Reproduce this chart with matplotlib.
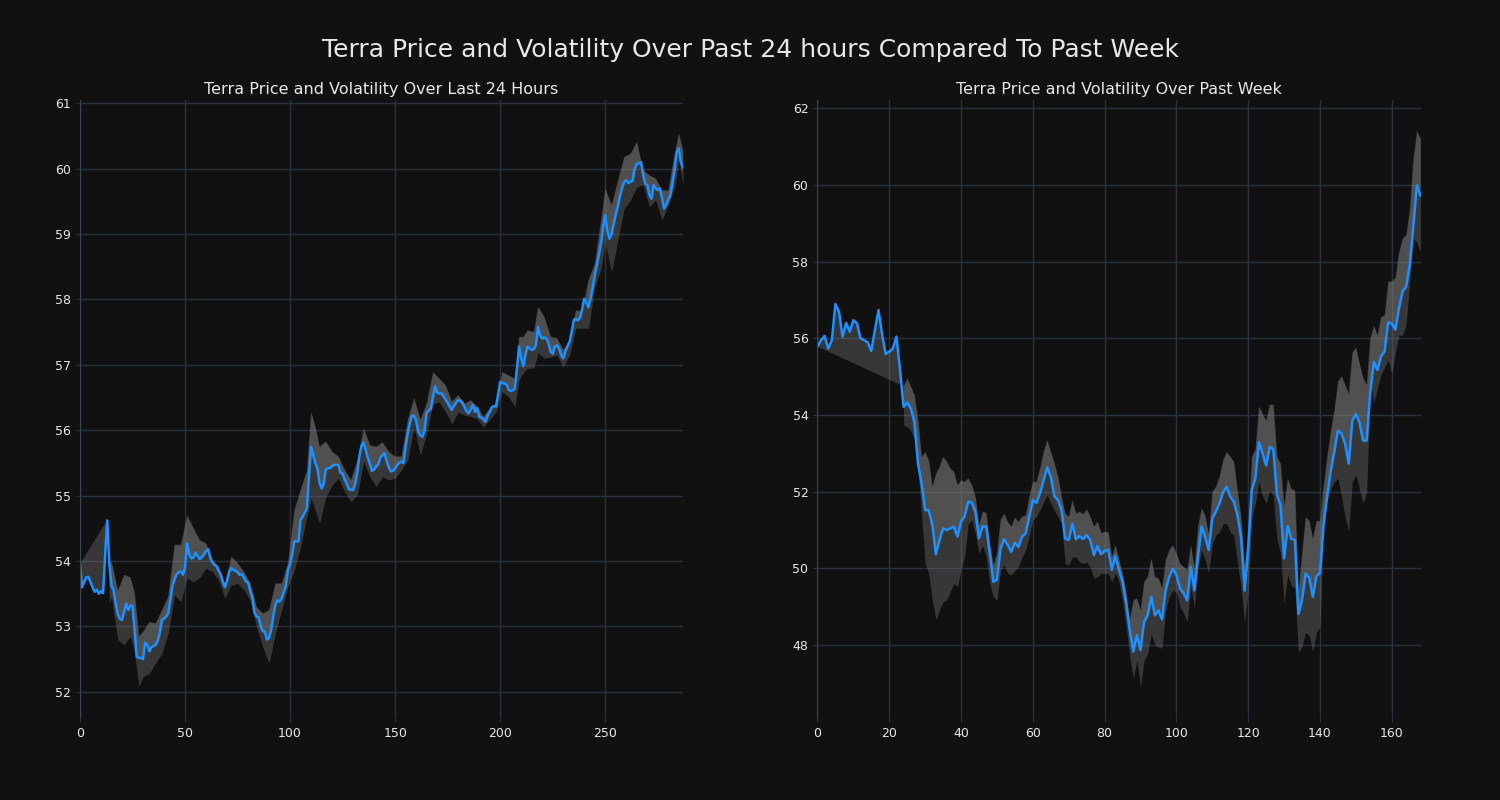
import matplotlib.pyplot as plt
from matplotlib.ticker import MultipleLocator
import numpy as np

BG = '#111111'
GRID = '#29313b'
TXT = '#e8e8e8'
LINE = '#1e90ff'

# price over last 24 hours (5 minute steps)
price_24h = [53.95, 53.6, 53.68, 53.75, 53.76, 53.68, 53.6, 53.53, 53.56, 53.5, 53.54, 53.51,
             54.1, 54.62, 53.95, 53.62, 53.55, 53.35, 53.18, 53.12, 53.1, 53.22, 53.35, 53.25,
             53.32, 53.32, 52.95, 52.54, 52.52, 52.52, 52.5, 52.75, 52.72, 52.62, 52.68, 52.7,
             52.72, 52.78, 52.9, 53.1, 53.12, 53.15, 53.2, 53.4, 53.62, 53.72, 53.8, 53.83,
             53.84, 53.79, 53.9, 54.27, 54.1, 54.04, 54.05, 54.13, 54.08, 54.03, 54.06, 54.1,
             54.15, 54.18, 54.05, 53.98, 53.94, 53.92, 53.85, 53.79, 53.68, 53.6, 53.7, 53.83,
             53.89, 53.87, 53.85, 53.83, 53.79, 53.8, 53.75, 53.69, 53.67, 53.55, 53.45, 53.22,
             53.15, 53.14, 53.0, 52.93, 52.92, 52.8, 52.82, 52.95, 53.15, 53.33, 53.4, 53.38,
             53.43, 53.52, 53.62, 53.86, 53.95, 54.1, 54.3, 54.3, 54.3, 54.63, 54.68, 54.74,
             54.8, 55.3, 55.75, 55.62, 55.5, 55.42, 55.2, 55.11, 55.18, 55.4, 55.42, 55.42,
             55.45, 55.47, 55.47, 55.47, 55.35, 55.34, 55.25, 55.18, 55.1, 55.09, 55.09, 55.18,
             55.35, 55.6, 55.76, 55.81, 55.7, 55.58, 55.48, 55.38, 55.4, 55.45, 55.48, 55.58,
             55.62, 55.65, 55.52, 55.43, 55.37, 55.38, 55.42, 55.47, 55.5, 55.52, 55.5, 55.75,
             55.95, 56.11, 56.22, 56.22, 56.15, 55.98, 55.92, 55.9, 56.0, 56.27, 56.3, 56.33,
             56.5, 56.67, 56.58, 56.56, 56.57, 56.52, 56.47, 56.42, 56.36, 56.31, 56.37, 56.42,
             56.46, 56.45, 56.42, 56.36, 56.29, 56.26, 56.32, 56.39, 56.28, 56.34, 56.21, 56.19,
             56.17, 56.13, 56.22, 56.28, 56.35, 56.37, 56.36, 56.55, 56.74, 56.72, 56.72, 56.7,
             56.62, 56.6, 56.61, 56.64, 56.95, 57.28, 57.1, 56.98, 57.15, 57.28, 57.25, 57.23,
             57.24, 57.3, 57.58, 57.45, 57.4, 57.42, 57.4, 57.33, 57.2, 57.17, 57.28, 57.3,
             57.25, 57.15, 57.1, 57.2, 57.28, 57.35, 57.5, 57.68, 57.7, 57.68, 57.72, 57.85,
             58.01, 57.95, 57.88, 58.02, 58.17, 58.37, 58.52, 58.68, 58.86, 59.1, 59.29, 59.05,
             58.93, 59.0, 59.15, 59.3, 59.42, 59.58, 59.7, 59.8, 59.82, 59.78, 59.8, 59.81,
             60.0, 60.07, 60.08, 60.1, 59.92, 59.77, 59.75, 59.6, 59.54, 59.75, 59.7, 59.67,
             59.7, 59.55, 59.39, 59.45, 59.52, 59.6, 59.78, 59.98, 60.25, 60.31, 60.1, 60.02]

# volatility band, last 24 hours
band_x_24h = [13, 14, 15, 18, 21, 24, 26, 28, 30, 33, 36, 39, 42, 45, 48, 51, 54, 57, 60, 63,
              66, 69, 72, 75, 78, 81, 84, 87, 90, 93, 96, 99, 102, 105, 108, 110, 112, 114, 117,
              120, 123, 126, 129, 132, 135, 138, 141, 144, 147, 150, 153, 156, 159, 162, 165,
              168, 171, 174, 177, 180, 183, 186, 189, 192, 195, 198, 201, 204, 207, 209, 211,
              213, 216, 218, 221, 224, 227, 230, 233, 236, 239, 242, 245, 248, 250, 253, 256,
              259, 262, 265, 268, 271, 274, 277, 280, 283, 285, 287]
upper_24h = [54.63, 53.95, 53.99, 53.55, 53.79, 53.75, 53.5, 52.85, 52.92, 53.07, 53.05, 53.25,
             53.46, 54.25, 54.25, 54.7, 54.5, 54.32, 54.27, 54.02, 53.91, 53.65, 54.07, 53.97,
             53.84, 53.66, 53.3, 53.2, 53.25, 53.66, 53.66, 53.97, 54.78, 55.09, 55.39, 56.28,
             56.05, 55.75, 55.83, 55.67, 55.6, 55.39, 55.24, 55.55, 56.03, 55.77, 55.75, 55.82,
             55.67, 55.6, 55.6, 56.16, 56.49, 56.16, 56.41, 56.89, 56.79, 56.69, 56.44, 56.54,
             56.41, 56.46, 56.36, 56.21, 56.33, 56.41, 56.89, 56.84, 56.79, 57.43, 57.43, 57.53,
             57.5, 57.89, 57.73, 57.43, 57.41, 57.23, 57.38, 57.84, 57.81, 58.3, 58.55, 59.21,
             59.7, 59.44, 59.82, 60.18, 60.23, 60.41, 59.98, 59.9, 59.85, 59.67, 59.67, 60.23,
             60.54, 60.28]
lower_24h = [54.55, 53.35, 53.45, 52.8, 52.72, 52.85, 52.6, 52.08, 52.23, 52.28, 52.44, 52.59,
             52.9, 53.48, 53.38, 53.74, 53.68, 53.75, 53.89, 53.84, 53.71, 53.43, 53.63, 53.66,
             53.56, 53.4, 53.0, 52.69, 52.44, 52.9, 53.25, 53.61, 53.86, 54.22, 54.68, 54.96,
             54.78, 54.58, 54.98, 55.16, 55.27, 55.06, 54.91, 55.01, 55.52, 55.29, 55.14, 55.29,
             55.24, 55.27, 55.39, 55.54, 56.05, 55.62, 55.95, 56.41, 56.43, 56.28, 56.1, 56.28,
             56.23, 56.21, 56.18, 56.05, 56.16, 56.28, 56.59, 56.51, 56.36, 56.77, 56.88, 56.95,
             56.95, 57.18, 57.1, 57.12, 57.15, 56.97, 57.15, 57.56, 57.56, 57.56, 58.19, 58.47,
             58.86, 58.42, 58.91, 59.39, 59.52, 59.72, 59.75, 59.42, 59.52, 59.21, 59.44, 59.72,
             60.13, 59.75]

# price over past week (hourly)
price_week = [55.78, 55.95, 56.06, 55.73, 55.95, 56.89, 56.69, 56.04, 56.4, 56.17, 56.47, 56.39,
              56.0, 55.95, 55.89, 55.67, 56.21, 56.73, 56.1, 55.59, 55.65, 55.73, 56.04, 55.17,
              54.21, 54.32, 54.17, 53.82, 52.74, 52.22, 51.52, 51.52, 51.13, 50.37, 50.74, 51.04,
              51.0, 51.04, 51.09, 50.83, 51.22, 51.36, 51.74, 51.71, 51.48, 50.78, 51.09, 51.09,
              50.39, 49.65, 49.7, 50.52, 50.76, 50.61, 50.43, 50.67, 50.56, 50.83, 50.91, 51.35,
              51.78, 51.71, 51.96, 52.3, 52.63, 52.39, 51.88, 51.78, 51.52, 50.78, 50.74, 51.16,
              50.76, 50.84, 50.76, 50.87, 50.74, 50.35, 50.58, 50.37, 50.45, 50.49, 49.96, 50.32,
              49.96, 49.65, 49.09, 48.39, 47.83, 48.26, 47.87, 48.61, 48.78, 49.26, 48.78, 48.9,
              48.67, 49.43, 49.78, 49.99, 49.83, 49.48, 49.35, 49.17, 50.04, 49.43, 50.3, 51.09,
              50.82, 50.48, 51.3, 51.48, 51.69, 51.99, 52.13, 51.87, 51.74, 51.39, 50.82, 49.42,
              50.5, 52.05, 52.35, 53.29, 53.0, 52.68, 53.17, 53.1, 51.93, 51.65, 50.26, 51.1,
              50.77, 50.74, 48.81, 49.18, 49.86, 49.76, 49.26, 49.79, 49.88, 51.14, 51.89, 52.54,
              53.05, 53.59, 53.52, 53.24, 52.73, 53.85, 54.03, 53.8, 53.33, 53.33, 54.59, 55.38,
              55.17, 55.52, 55.66, 56.41, 56.38, 56.22, 56.78, 57.22, 57.34, 57.9, 58.93, 59.98,
              59.72]

# volatility band, past week (starts at hour 24)
upper_week = [54.75, 54.95, 54.74, 54.52, 53.87, 52.91, 53.04, 52.82, 52.13, 52.47, 52.65, 52.91,
              52.78, 52.61, 52.52, 52.17, 52.3, 52.26, 52.35, 52.17, 51.87, 51.13, 51.48, 51.45,
              50.65, 50.09, 50.39, 51.26, 51.43, 51.21, 51.09, 51.33, 51.21, 51.36, 51.38, 51.87,
              52.26, 52.26, 52.61, 53.04, 53.34, 53.04, 52.74, 52.39, 51.87, 51.43, 51.35, 51.78,
              51.43, 51.48, 51.42, 51.54, 51.35, 51.09, 51.22, 50.93, 50.95, 50.95, 50.3, 50.61,
              50.22, 49.87, 49.35, 48.65, 49.17, 49.22, 48.91, 49.65, 49.78, 50.26, 49.78, 49.74,
              49.48, 50.22, 50.48, 50.61, 50.39, 50.13, 50.04, 49.96, 50.61, 50.0, 51.09, 51.56,
              51.39, 50.87, 52.0, 52.13, 52.39, 52.82, 53.04, 52.91, 52.78, 52.04, 51.35, 50.04,
              51.0, 52.91, 53.1, 54.22, 54.03, 53.85, 54.27, 54.27, 52.91, 52.73, 51.61, 52.35,
              52.07, 52.03, 49.37, 50.4, 51.33, 51.24, 50.77, 51.24, 51.24, 52.17, 52.91, 53.57,
              54.13, 54.87, 55.01, 54.78, 54.55, 55.62, 55.76, 55.34, 54.97, 54.78, 55.99, 56.32,
              56.08, 56.55, 56.6, 57.48, 57.48, 57.58, 58.23, 58.6, 58.69, 59.35, 60.65, 61.4,
              61.21]
lower_week = [53.74, 53.69, 53.6, 53.35, 52.6, 51.43, 50.13, 49.87, 49.17, 48.65, 48.91, 49.13,
              49.17, 49.39, 49.61, 49.52, 49.96, 50.3, 51.17, 51.26, 50.9, 50.39, 50.6, 50.3,
              49.61, 49.26, 49.17, 49.96, 50.09, 49.87, 49.83, 49.95, 50.04, 50.3, 50.48, 50.83,
              51.26, 51.35, 51.52, 51.74, 51.91, 51.69, 51.52, 51.35, 51.17, 50.13, 50.09, 50.3,
              50.3, 50.17, 50.13, 50.17, 50.04, 49.74, 49.78, 49.87, 49.87, 49.87, 49.65, 49.87,
              49.65, 49.17, 48.48, 47.7, 47.13, 47.61, 46.9, 47.61, 47.78, 48.3, 48.0, 47.95,
              47.92, 48.91, 49.26, 49.43, 49.38, 49.0, 48.83, 48.61, 49.52, 48.96, 50.04, 50.47,
              50.22, 49.87, 50.65, 50.87, 50.95, 51.17, 51.17, 50.95, 50.87, 50.13, 49.52, 48.6,
              49.4, 51.33, 51.7, 52.26, 51.89, 51.7, 52.03, 51.89, 50.77, 50.4, 49.09, 49.84,
              49.56, 49.46, 47.79, 47.98, 48.34, 48.25, 47.83, 48.34, 48.48, 51.24, 51.8, 52.07,
              52.26, 52.35, 51.89, 51.33, 50.96, 52.26, 52.45, 52.07, 51.7, 51.98, 54.87, 54.31,
              54.69, 55.06, 55.24, 55.43, 55.06, 55.62, 56.08, 56.08, 56.36, 57.48, 58.6, 58.51,
              58.23]
BAND_START_WEEK = 24


def draw(ax, price, bx, up, lo, title):
    x = np.arange(len(price))
    price = np.array(price)
    bx = np.array(bx)
    up = np.array(up)
    lo = np.array(lo)
    ax.set_facecolor(BG)
    ax.fill_between(bx, lo, up, color='grey', alpha=0.35, linewidth=0)
    # second layer between price and upper band (closing back to the first point)
    ax.fill(np.concatenate([x, bx[::-1]]), np.concatenate([price, up[::-1]]),
            color='grey', alpha=0.35, linewidth=0)
    ax.plot(x, price, color=LINE, linewidth=1.8)
    ax.set_xlim(0, len(price) - 1)
    ax.set_title(title, color=TXT, fontsize=11.5, pad=4)
    ax.grid(True, color=GRID, linewidth=1)
    ax.set_axisbelow(True)
    for s in ['top', 'right', 'bottom']:
        ax.spines[s].set_visible(False)
    ax.spines['left'].set_color('#3a4450')
    ax.tick_params(colors=TXT, labelsize=9, length=3)
    ax.tick_params(axis='both', color=GRID)


fig = plt.figure(figsize=(15, 8), dpi=100, facecolor=BG)
ax1 = fig.add_subplot(121)
ax2 = fig.add_subplot(122)
plt.subplots_adjust(left=0.0533, right=0.947, bottom=0.1025, top=0.875, wspace=0.223)

draw(ax1, price_24h, band_x_24h, upper_24h, lower_24h,
     'Terra Price and Volatility Over Last 24 Hours')
ax1.set_ylim(51.6, 61.05)
ax1.yaxis.set_major_locator(MultipleLocator(1))

bx_week = list(range(BAND_START_WEEK, len(price_week)))
draw(ax2, price_week, bx_week, upper_week, lower_week,
     'Terra Price and Volatility Over Past Week')
ax2.set_ylim(46.1, 62.21)

fig.suptitle('Terra Price and Volatility Over Past 24 hours Compared To Past Week',
             color=TXT, fontsize=18, y=0.952)

plt.savefig('out.png', facecolor=BG)
